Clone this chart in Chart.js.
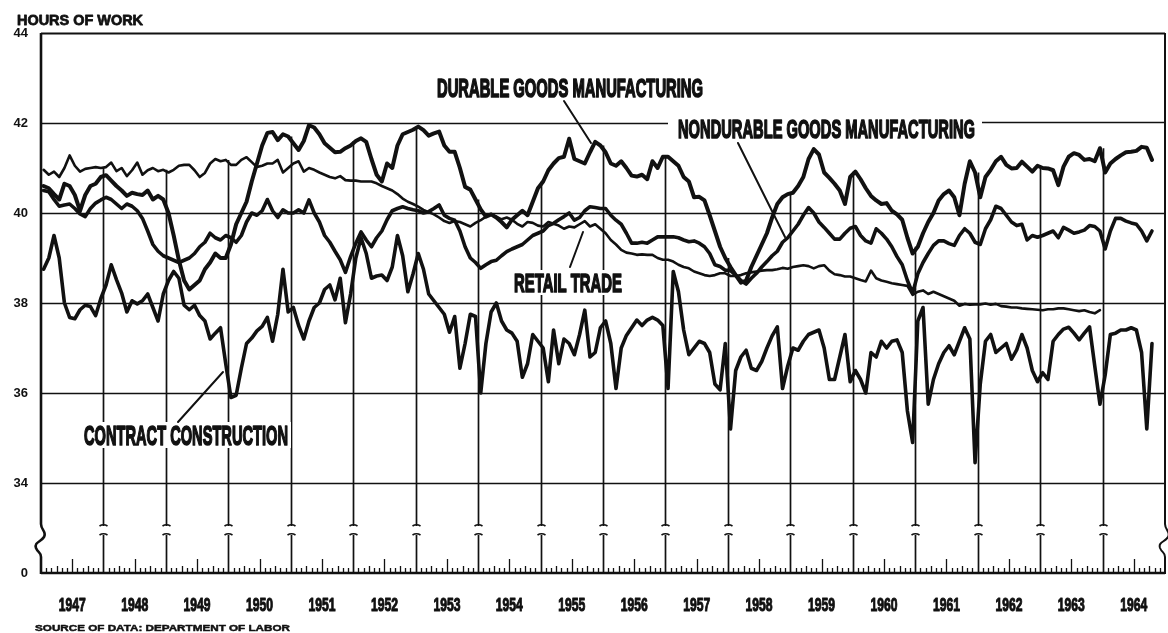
<!DOCTYPE html>
<html>
<head>
<meta charset="utf-8">
<script src="https://cdn.jsdelivr.net/npm/chart.js@4.4.1/dist/chart.umd.min.js"></script>
<style>
html,body{margin:0;padding:0;background:#fff;}
#wrap{width:1168px;height:633px;position:relative;}
</style>
</head>
<body>
<div id="wrap"><canvas id="c" width="1168" height="633"></canvas></div>
<script>
// ---------------- DATA (average weekly hours, monthly from Jan 1947) ----------------
const START_YEAR = 1947;
const yearLabels = ['1947','1948','1949','1950','1951','1952','1953','1954','1955','1956','1957','1958','1959','1960','1961','1962','1963','1964'];
const yTickValues = [32, 34, 36, 38, 40, 42, 44];
const yTickLabels = ['0', '34', '36', '38', '40', '42', '44'];

const durable = [
  40.6,40.55,40.42,40.3,40.65,40.6,40.4,40.05,40.4,40.6,40.65,40.8,
  40.84,40.72,40.6,40.5,40.38,40.45,40.42,40.4,40.5,40.3,40.38,40.3,
  40.0,39.5,38.95,38.5,38.3,38.4,38.5,38.75,38.9,39.1,39.0,39.0,
  39.3,39.75,40.0,40.25,40.7,41.1,41.5,41.78,41.8,41.62,41.75,41.7,
  41.55,41.4,41.6,41.95,41.9,41.75,41.55,41.45,41.35,41.36,41.44,41.5,
  41.6,41.66,41.58,41.2,40.85,40.7,41.1,41.0,41.5,41.75,41.8,41.85,
  41.92,41.84,41.72,41.77,41.81,41.5,41.36,41.36,41.0,40.58,40.52,40.3,
  40.08,39.92,39.97,39.9,39.8,39.68,39.85,39.95,40.05,39.95,40.25,40.55,
  40.7,40.95,41.1,41.22,41.25,41.65,41.2,41.15,41.1,41.35,41.58,41.5,
  41.35,41.1,41.05,41.15,41.0,40.83,40.81,40.85,40.75,41.15,41.0,41.25,
  41.25,41.15,41.05,40.8,40.7,40.35,40.36,40.28,39.95,39.6,39.25,39.0,
  38.8,38.62,38.45,38.5,38.8,39.05,39.3,39.55,39.9,40.2,40.35,40.42,
  40.45,40.6,40.8,41.2,41.42,41.3,40.9,40.78,40.65,40.5,40.2,40.8,
  40.92,40.75,40.55,40.38,40.28,40.2,40.22,40.05,39.97,39.85,39.45,39.1,
  39.25,39.55,39.8,40.0,40.28,40.42,40.5,40.35,39.95,40.65,41.15,40.9,
  40.35,40.8,40.96,41.15,41.25,41.07,40.99,41.0,41.14,41.03,40.92,41.05,
  41.0,40.99,40.95,40.62,41.03,41.25,41.33,41.29,41.18,41.2,41.15,41.44,
  40.9,41.1,41.2,41.28,41.35,41.36,41.38,41.47,41.45,41.18
];

const nondurable = [
  40.5,40.47,40.3,40.15,40.18,40.2,40.1,39.98,39.92,40.1,40.22,40.29,
  40.35,40.3,40.2,40.1,40.2,40.15,40.05,39.88,39.6,39.3,39.15,39.05,
  39.0,38.95,38.9,38.95,39.0,39.1,39.25,39.35,39.55,39.45,39.4,39.5,
  39.45,39.35,39.5,39.8,40.0,39.95,40.05,40.3,40.05,39.9,40.07,40.0,
  40.0,40.07,40.0,40.29,40.0,39.8,39.5,39.35,39.15,38.96,38.68,39.03,
  39.33,39.58,39.4,39.25,39.45,39.6,39.85,40.05,40.1,40.14,40.1,40.07,
  40.05,40.0,40.03,40.1,40.18,39.95,39.88,39.84,39.6,39.25,39.0,38.9,
  38.77,38.85,38.92,38.95,39.05,39.14,39.2,39.25,39.3,39.4,39.5,39.55,
  39.6,39.72,39.77,39.85,39.92,40.0,39.84,39.9,40.05,40.14,40.12,40.1,
  40.1,39.95,39.84,39.75,39.55,39.33,39.33,39.35,39.33,39.4,39.47,39.47,
  39.47,39.47,39.45,39.4,39.36,39.38,39.33,39.25,39.1,38.85,38.81,38.73,
  38.72,38.62,38.5,38.42,38.55,38.66,38.8,38.92,39.05,39.15,39.35,39.45,
  39.6,39.75,39.95,40.12,40.0,39.8,39.68,39.55,39.42,39.42,39.55,39.66,
  39.7,39.5,39.38,39.33,39.65,39.55,39.42,39.25,39.03,38.85,38.5,38.22,
  38.65,38.9,39.1,39.28,39.38,39.38,39.32,39.28,39.5,39.65,39.55,39.35,
  39.3,39.65,39.85,40.15,40.1,39.95,39.8,39.72,39.75,39.4,39.5,39.46,
  39.5,39.55,39.6,39.45,39.68,39.62,39.55,39.58,39.62,39.72,39.7,39.6,
  39.2,39.6,39.88,39.88,39.82,39.78,39.75,39.6,39.38,39.6
];

const retail = [
  40.96,40.85,40.92,40.8,41.0,41.28,41.05,40.92,40.98,41.0,41.02,41.0,
  41.02,41.12,40.93,41.0,40.82,40.95,41.12,40.85,40.95,41.0,40.93,40.96,
  40.9,40.96,41.05,41.07,41.07,40.95,40.8,40.89,41.1,41.2,41.15,41.18,
  41.07,41.07,41.18,41.24,41.13,41.02,41.05,41.1,41.1,41.18,40.9,41.0,
  41.1,41.15,40.92,41.0,40.96,40.9,40.85,40.8,40.77,40.82,40.73,40.72,
  40.72,40.7,40.7,40.7,40.66,40.6,40.55,40.5,40.42,40.32,40.25,40.2,
  40.14,40.07,40.02,39.97,39.9,39.82,39.78,39.82,39.8,39.75,39.7,39.78,
  39.84,39.92,39.97,39.92,39.86,39.9,39.85,39.76,39.7,39.8,39.78,39.72,
  39.7,39.8,39.76,39.72,39.65,39.7,39.68,39.75,39.82,39.7,39.75,39.65,
  39.55,39.4,39.3,39.18,39.12,39.1,39.07,39.08,39.07,39.07,39.0,38.96,
  38.96,38.92,38.85,38.8,38.77,38.7,38.66,38.62,38.6,38.62,38.66,38.66,
  38.6,38.6,38.62,38.66,38.68,38.7,38.72,38.73,38.73,38.75,38.78,38.76,
  38.8,38.82,38.84,38.82,38.77,38.82,38.84,38.72,38.64,38.62,38.59,38.59,
  38.55,38.51,38.48,38.72,38.55,38.5,38.47,38.44,38.42,38.4,38.38,38.18,
  38.25,38.28,38.2,38.25,38.2,38.15,38.1,38.05,37.94,37.98,37.96,37.97,
  37.97,37.99,37.96,37.98,37.93,37.92,37.9,37.9,37.88,37.87,37.86,37.85,
  37.84,37.86,37.86,37.88,37.88,37.86,37.84,37.82,37.84,37.8,37.77,37.84
];

const construction = [
  38.75,39.0,39.5,39.0,38.0,37.68,37.65,37.85,37.95,37.92,37.72,38.1,
  38.4,38.85,38.52,38.22,37.8,38.05,37.98,38.05,38.2,37.9,37.6,38.2,
  38.5,38.7,38.55,37.95,37.85,37.95,37.72,37.6,37.2,37.33,37.45,36.65,
  35.9,35.95,36.55,37.1,37.22,37.38,37.48,37.68,37.15,37.75,38.75,37.8,
  37.9,37.5,37.2,37.6,37.9,38.0,38.3,38.4,38.07,38.55,37.56,38.2,
  39.0,39.45,39.1,38.55,38.6,38.62,38.5,38.8,39.5,39.05,38.25,38.65,
  39.1,38.75,38.2,38.05,37.9,37.75,37.35,37.7,36.55,37.1,37.75,37.7,
  36.0,37.1,37.8,38.0,37.6,37.4,37.33,37.15,36.35,36.65,37.3,37.15,
  37.0,36.25,37.4,36.65,37.2,37.1,36.85,37.3,37.84,36.8,36.9,37.45,
  37.6,37.1,36.1,37.0,37.28,37.45,37.62,37.5,37.62,37.68,37.62,37.5,
  36.1,38.7,38.25,37.4,36.85,37.0,37.15,37.1,36.9,36.2,36.07,37.1,
  35.2,36.5,36.8,36.95,36.55,36.5,36.7,37.0,37.27,37.47,36.1,36.6,
  37.0,36.95,37.15,37.3,37.35,37.4,37.0,36.3,36.3,36.8,37.3,36.25,
  36.5,36.3,36.0,36.9,36.8,37.15,37.0,37.15,37.18,36.9,35.6,34.9,
  37.6,37.9,35.75,36.3,36.65,36.9,37.05,36.85,37.15,37.45,37.2,34.45,
  36.2,37.15,37.3,36.9,37.0,37.1,36.75,36.96,37.3,37.0,36.5,36.25,
  36.45,36.3,37.15,37.3,37.42,37.46,37.33,37.18,37.33,37.47,36.6,35.75,
  36.4,37.3,37.33,37.4,37.4,37.45,37.4,36.9,35.2,37.1
];

const seriesNames = ['DURABLE GOODS MANUFACTURING', 'NONDURABLE GOODS MANUFACTURING', 'RETAIL TRADE', 'CONTRACT CONSTRUCTION'];
const titleText = 'HOURS OF WORK';
const sourceText = 'SOURCE OF DATA: DEPARTMENT OF LABOR';

// ---------------- helpers ----------------
const INK = '#111';
function toXY(arr) {
  return arr.map((v, i) => ({ x: START_YEAR + (i + 0.5) / 12, y: v }));
}
function heavyText(ctx, text, x, y, w, size, stroke, family) {
  ctx.save();
  ctx.font = `bold ${size}px ${family || '"Liberation Sans Narrow", "Liberation Sans", Arial, sans-serif'}`;
  ctx.textBaseline = 'alphabetic';
  ctx.textAlign = 'left';
  const m = ctx.measureText(text).width;
  ctx.translate(x, y);
  ctx.scale(w / m, 1);
  ctx.fillStyle = INK;
  ctx.strokeStyle = INK;
  ctx.lineWidth = stroke || 1;
  ctx.lineJoin = 'round';
  ctx.fillText(text, 0, 0);
  if (stroke) ctx.strokeText(text, 0, 0);
  ctx.restore();
}

const BREAK_TOP = 526, BREAK_BOTTOM = 535;

const decor = {
  id: 'decor',
  beforeDatasetsDraw(chart) {
    const ctx = chart.ctx;
    const xs = chart.scales.x, ys = chart.scales.y;
    const L = xs.left, R = xs.right, T = ys.top, B = ys.bottom;
    ctx.save();
    ctx.strokeStyle = INK;
    ctx.lineCap = 'butt';

    // horizontal gridlines
    ctx.lineWidth = 1.6;
    [34, 36, 38, 40].forEach(v => {
      const y = Math.round(ys.getPixelForValue(v)) + 0.5;
      ctx.beginPath(); ctx.moveTo(L, y); ctx.lineTo(R, y); ctx.stroke();
    });
    // 42 line interrupted by nondurable label
    {
      const y = Math.round(ys.getPixelForValue(42)) + 0.5;
      ctx.beginPath(); ctx.moveTo(L, y); ctx.lineTo(668, y); ctx.stroke();
      ctx.beginPath(); ctx.moveTo(982, y - 1); ctx.lineTo(R, y - 1); ctx.stroke();
    }
    // top border (44)
    ctx.lineWidth = 2.2;
    ctx.beginPath(); ctx.moveTo(L, T + 0.5); ctx.lineTo(R, T + 0.5); ctx.stroke();

    // bottom axis (0)
    ctx.lineWidth = 2.6;
    ctx.beginPath(); ctx.moveTo(L, B); ctx.lineTo(R, B); ctx.stroke();

    // month ticks
    ctx.lineWidth = 1.3;
    for (let k = 1; k < 216; k++) {
      if (k % 12 === 0) continue;
      const x = Math.round(xs.getPixelForValue(START_YEAR + k / 12)) + 0.5;
      let h = 5;
      if (k % 12 === 6) h = 14; else if (k % 3 === 0) h = 7;
      ctx.beginPath(); ctx.moveTo(x, B); ctx.lineTo(x, B - h); ctx.stroke();
    }

    // vertical year lines with break
    const all = [durable, nondurable, retail, construction];
    ctx.lineWidth = 1.7;
    for (let yr = START_YEAR + 1; yr < START_YEAR + 18; yr++) {
      const idx = (yr - START_YEAR) * 12;
      let top = -Infinity;
      all.forEach(a => {
        [idx - 1, idx].forEach(j => { if (a[j] !== undefined) top = Math.max(top, a[j]); });
      });
      const x = Math.round(xs.getPixelForValue(yr)) + 0.5;
      const yTop = ys.getPixelForValue(top);
      ctx.beginPath(); ctx.moveTo(x, yTop); ctx.lineTo(x, BREAK_TOP); ctx.stroke();
      ctx.beginPath(); ctx.moveTo(x - 4, BREAK_TOP); ctx.quadraticCurveTo(x, BREAK_TOP - 2.5, x + 4, BREAK_TOP); ctx.stroke();
      ctx.beginPath(); ctx.moveTo(x - 4, BREAK_BOTTOM); ctx.quadraticCurveTo(x, BREAK_BOTTOM - 2.5, x + 4, BREAK_BOTTOM); ctx.stroke();
      ctx.beginPath(); ctx.moveTo(x, BREAK_BOTTOM); ctx.lineTo(x, B); ctx.stroke();
    }

    // left and right axis with break squiggle
    function axisWithBreak(x, lw) {
      ctx.lineWidth = lw;
      ctx.beginPath();
      ctx.moveTo(x, T);
      ctx.lineTo(x, 524);
      ctx.bezierCurveTo(x, 530, x + 6, 532, x + 3, 537);
      ctx.bezierCurveTo(x, 542, x - 7, 542, x - 5, 548);
      ctx.bezierCurveTo(x - 3, 553, x, 552, x, 557);
      ctx.lineTo(x, B + 1);
      ctx.stroke();
    }
    axisWithBreak(L, 2.6);
    axisWithBreak(R, 2.0);

    // annotation labels (white backing interrupts grid/year lines)
    const labels = [
      { t: seriesNames[0], x: 437, y: 97, w: 266, cap: 19 },
      { t: seriesNames[1], x: 678, y: 138, w: 297, cap: 19 },
      { t: seriesNames[2], x: 514, y: 292, w: 108, cap: 19 },
      { t: seriesNames[3], x: 84, y: 445, w: 204, cap: 20 }
    ];
    labels.forEach(l => {
      ctx.fillStyle = '#fff';
      ctx.fillRect(l.x - 3, l.y - l.cap - 3, l.w + 6, l.cap + 6);
      heavyText(ctx, l.t, l.x, l.y, l.w, Math.round(l.cap / 0.72), 1.7);
    });
    ctx.restore();
  },
  afterDatasetsDraw(chart) {
    const ctx = chart.ctx;
    const xs = chart.scales.x;
    ctx.save();
    ctx.strokeStyle = INK;
    ctx.lineWidth = 2;
    ctx.lineCap = 'round';
    // leader lines
    [[564, 101, 591, 143], [738, 143, 785, 237], [570, 267, 583, 232], [178, 422, 223, 372]].forEach(s => {
      ctx.beginPath(); ctx.moveTo(s[0], s[1]); ctx.lineTo(s[2], s[3]); ctx.stroke();
    });
    // year labels
    yearLabels.forEach((lab, i) => {
      const cx = xs.getPixelForValue(START_YEAR + i + 0.5);
      heavyText(ctx, lab, cx - 13.5, 611, 27, 19, 1.1);
    });
    // title and source
    heavyText(ctx, titleText, 17, 25, 126, 15, 0.8, '"Liberation Sans", Arial, sans-serif');
    heavyText(ctx, sourceText, 35, 631, 255, 9.5, 0.5, '"Liberation Sans", Arial, sans-serif');
    ctx.restore();
  }
};

const lineBase = { borderColor: INK, pointRadius: 0, tension: 0, borderJoinStyle: 'round', borderCapStyle: 'round', fill: false };

new Chart(document.getElementById('c').getContext('2d'), {
  type: 'line',
  data: {
    datasets: [
      Object.assign({ label: 'Durable goods manufacturing', data: toXY(durable), borderWidth: 4 }, lineBase),
      Object.assign({ label: 'Nondurable goods manufacturing', data: toXY(nondurable), borderWidth: 3.6 }, lineBase),
      Object.assign({ label: 'Retail trade', data: toXY(retail), borderWidth: 2.6 }, lineBase),
      Object.assign({ label: 'Contract construction', data: toXY(construction), borderWidth: 3.6 }, lineBase)
    ]
  },
  options: {
    responsive: false,
    animation: false,
    devicePixelRatio: 1,
    layout: { padding: { top: 33, right: 3, left: 0, bottom: 0 } },
    plugins: { legend: { display: false }, tooltip: { enabled: false }, title: { display: false } },
    scales: {
      x: {
        type: 'linear', min: START_YEAR, max: START_YEAR + 18,
        grid: { display: false, drawTicks: false }, border: { display: false },
        ticks: { display: false },
        afterFit: s => { s.height = 60; }
      },
      y: {
        type: 'linear', min: 32, max: 44,
        grid: { display: false, drawTicks: false }, border: { display: false },
        afterBuildTicks: s => { s.ticks = yTickValues.map(v => ({ value: v })); },
        ticks: {
          color: INK, padding: 13,
          font: { family: '"Liberation Sans", Arial, sans-serif', size: 13, weight: 'bold' },
          callback: (v) => yTickLabels[yTickValues.indexOf(v)]
        },
        afterFit: s => { s.width = 41; }
      }
    }
  },
  plugins: [decor]
});
</script>
</body>
</html>
